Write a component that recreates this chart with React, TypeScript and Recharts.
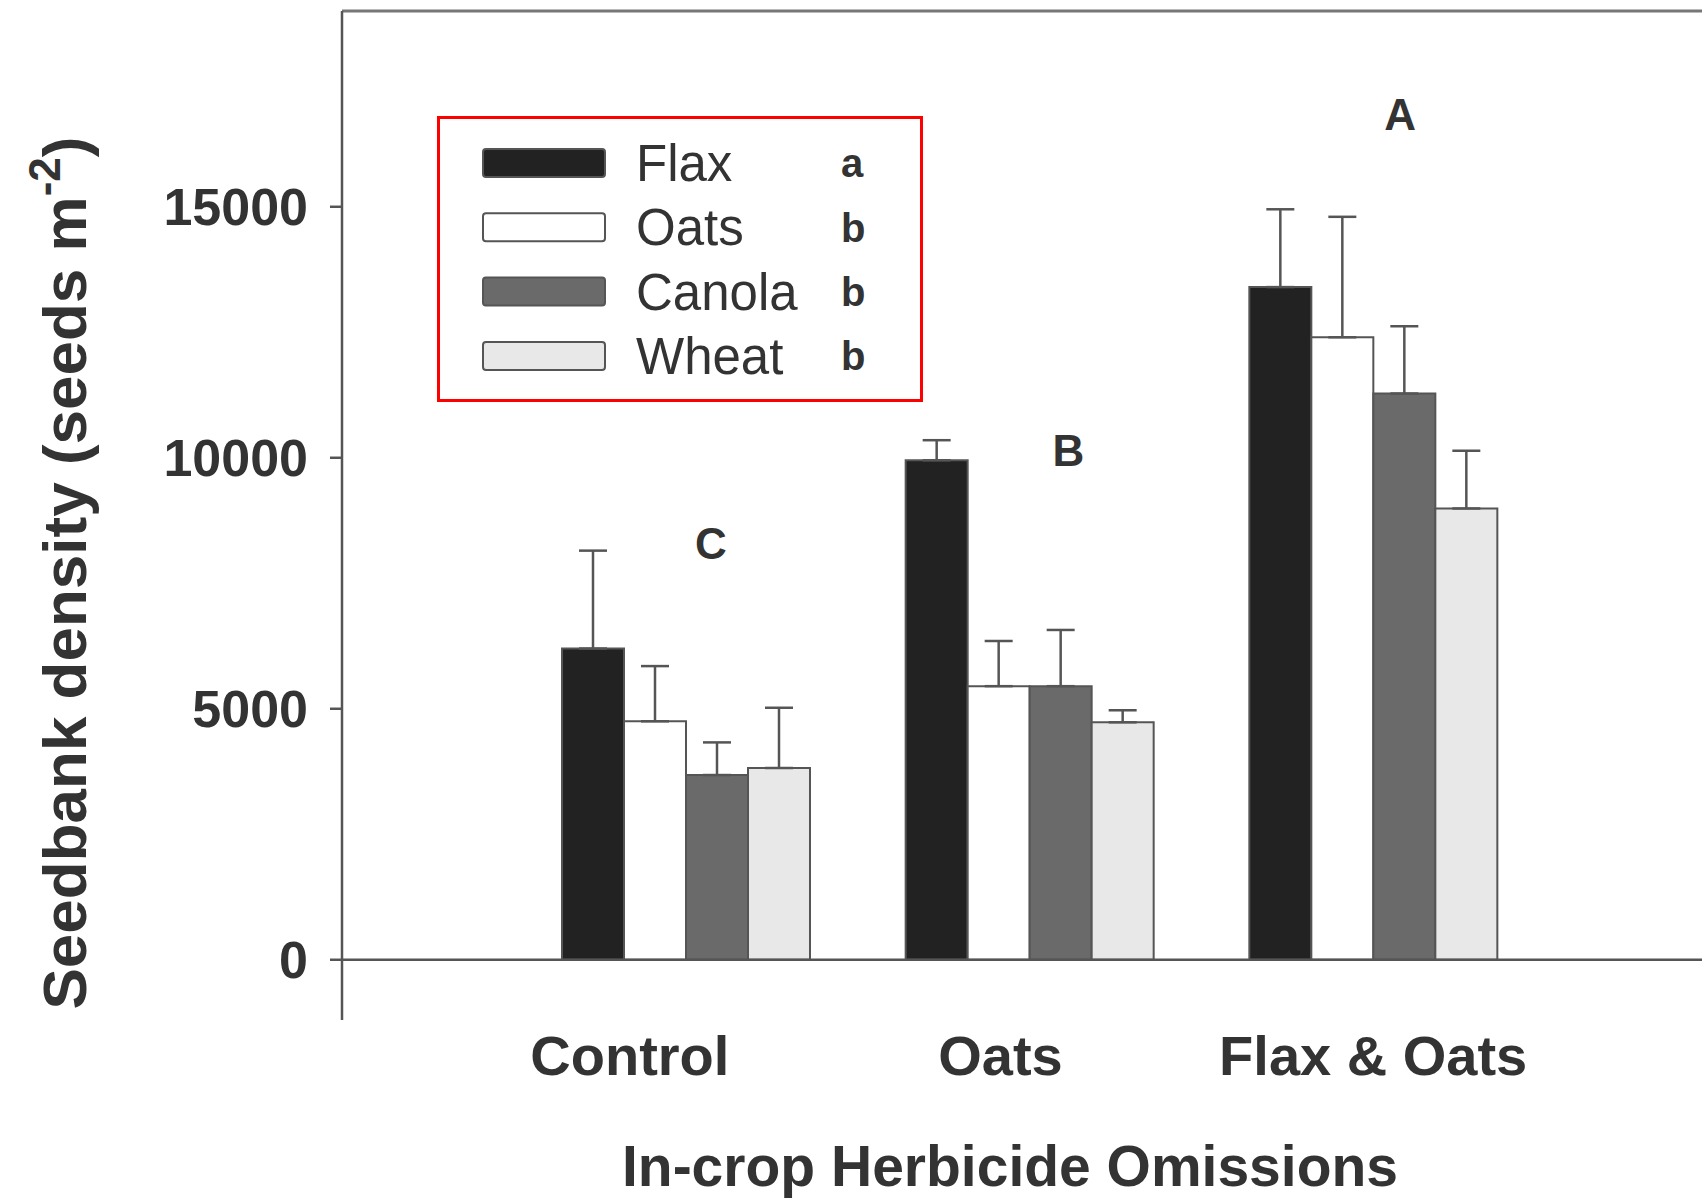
import React from 'react';
import { BarChart, Bar, XAxis, YAxis, ErrorBar, ReferenceLine, ReferenceDot, Legend, Label } from 'recharts';

// herbicide omission treatments on the x axis
const groups = ['Control', 'Oats', 'Flax & Oats'];

// seedbank density means and standard errors (seeds m-2) per crop
const flax = [6200, 9950, 13400];
const flaxSe = [1950, 400, 1550];
const oats = [4750, 5450, 12400];
const oatsSe = [1100, 900, 2400];
const canola = [3680, 5450, 11280];
const canolaSe = [650, 1120, 1340];
const wheat = [3820, 4730, 8990];
const wheatSe = [1200, 240, 1150];

// mean separation letters
const groupLetters = ['C', 'B', 'A'];
const groupLetterLevel = [8300, 10150, 16850];
const cropLetters = ['a', 'b', 'b', 'b'];

const yTicks = [0, 5000, 10000, 15000];

const crops = ['Flax', 'Oats', 'Canola', 'Wheat'];
const fills = ['#222222', '#ffffff', '#6a6a6a', '#e8e8e8'];

const data = groups.map((g, i) => ({
  group: g,
  Flax: flax[i],
  FlaxErr: [0, flaxSe[i]],
  Oats: oats[i],
  OatsErr: [0, oatsSe[i]],
  Canola: canola[i],
  CanolaErr: [0, canolaSe[i]],
  Wheat: wheat[i],
  WheatErr: [0, wheatSe[i]],
}));

const FONT = '"Liberation Sans", Arial, Helvetica, sans-serif';
const INK = '#333';
const AXIS = '#555';

// small horizontal nudges for the category names and the group letters
const tickNudge = [-56, -29, 0];
const letterNudge = [25, 39, 27];

const CategoryTick = (props: any) => {
  const { x, y, payload, index } = props;
  return (
    <text
      x={x + (tickNudge[index] ?? 0)}
      y={y + 35}
      dy="0.355em"
      textAnchor="middle"
      fontFamily={FONT}
      fontWeight="bold"
      fontSize={56}
      fill={INK}
    >
      {payload.value}
    </text>
  );
};

const YTitle = () => (
  <text
    x={86}
    y={573}
    transform="rotate(-90, 86, 573)"
    textAnchor="middle"
    fontFamily={FONT}
    fontWeight="bold"
    fontSize={62}
    fill={INK}
  >
    Seedbank density (seeds m
    <tspan fontSize={44} dy={-26}>-2</tspan>
    <tspan dy={26}>)</tspan>
  </text>
);

const XTitle = (props: any) => {
  const { viewBox } = props;
  const cx = viewBox.x + viewBox.width / 2 - 12;
  return (
    <text
      x={cx}
      y={1166}
      dy="0.355em"
      textAnchor="middle"
      fontFamily={FONT}
      fontWeight="bold"
      fontSize={57}
      fill={INK}
    >
      In-crop Herbicide Omissions
    </text>
  );
};

const LegendBox = (props: any) => {
  const items = props.payload || [];
  // keep the series order rather than the sorted legend payload
  const entries = crops.map((c) => items.find((it: any) => it.value === c) || { value: c });
  return (
    <svg width={487} height={287} style={{ display: 'block' }}>
      <rect x={1.5} y={1.5} width={483} height={283} fill="#fff" stroke="#ff0000" strokeWidth={3} />
      {entries.map((item: any, i: number) => {
        const cy = 47 + i * 64.3;
        return (
          <g key={item.value}>
            <rect
              x={46}
              y={cy - 14}
              width={122}
              height={28}
              rx={3}
              fill={fills[i]}
              stroke={AXIS}
              strokeWidth={2}
            />
            <text x={199} y={cy} dy="0.355em" fontFamily={FONT} fontSize={51} fill={INK}>
              {item.value}
            </text>
            <text x={404} y={cy} dy="0.355em" fontFamily={FONT} fontWeight="bold" fontSize={40} fill={INK}>
              {cropLetters[i]}
            </text>
          </g>
        );
      })}
    </svg>
  );
};

export default function App() {
  return (
    <div style={{ position: 'absolute', left: 0, top: 0, background: '#fff' }}>
      <BarChart
        width={1702}
        height={1199}
        data={data}
        margin={{ top: 11, right: 0, left: 0, bottom: 0 }}
        barGap={0}
        barSize={62}
      >
        <XAxis
          dataKey="group"
          height={179}
          axisLine={false}
          tickLine={false}
          tickSize={0}
          tickMargin={0}
          padding={{ left: 172, right: 157 }}
          tick={<CategoryTick />}
          interval={0}
        >
          <Label content={<XTitle />} />
        </XAxis>
        <YAxis
          width={342}
          domain={[-1200, 18900]}
          allowDataOverflow
          ticks={yTicks}
          tickSize={12}
          tickMargin={22}
          stroke={AXIS}
          axisLine={{ stroke: AXIS, strokeWidth: 2.5 }}
          tickLine={{ stroke: AXIS, strokeWidth: 2.5 }}
          tick={{ fontFamily: FONT, fontWeight: 'bold', fontSize: 52, fill: INK }}
        >
          <Label content={<YTitle />} />
        </YAxis>

        <ReferenceLine y={18900} stroke="#777" strokeWidth={3} />
        <ReferenceLine y={0} stroke={AXIS} strokeWidth={2.5} />

        <Legend
          layout="horizontal"
          align="center"
          verticalAlign="middle"
          wrapperStyle={{ left: 437, top: 116, width: 487, height: 287 }}
          content={<LegendBox />}
        />

        {crops.map((c, i) => (
          <Bar key={c} dataKey={c} fill={fills[i]} stroke={AXIS} strokeWidth={2} isAnimationActive={false}>
            <ErrorBar
              dataKey={`${c}Err`}
              direction="y"
              width={14}
              stroke={AXIS}
              strokeWidth={2.5}
              isAnimationActive={false}
            />
          </Bar>
        ))}

        {groups.map((g, i) => (
          <ReferenceDot
            key={g}
            x={g}
            y={groupLetterLevel[i]}
            r={0}
            shape={(p: any) => (
              <text
                x={p.cx + letterNudge[i]}
                y={p.cy}
                dy="0.355em"
                textAnchor="middle"
                fontFamily={FONT}
                fontWeight="bold"
                fontSize={44}
                fill={INK}
              >
                {groupLetters[i]}
              </text>
            )}
          />
        ))}
      </BarChart>
    </div>
  );
}
